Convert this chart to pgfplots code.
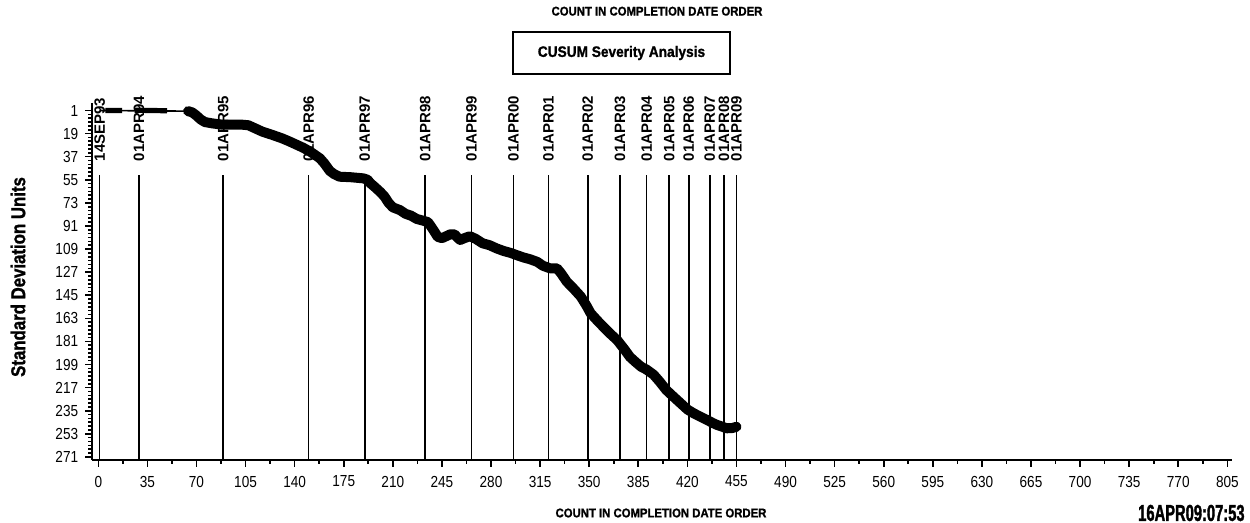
\documentclass[border=0pt]{standalone}
\usepackage{fontspec}
\setmainfont{Liberation Sans}
\newfontfamily\tickfont[FakeStretch=0.85]{Liberation Sans}
\newfontfamily\titlefont[FakeStretch=0.9,FakeBold=1.2]{Liberation Sans}
\newfontfamily\ylabfont[FakeStretch=0.84,FakeBold=1.2]{Liberation Sans}
\newfontfamily\stampfont[FakeStretch=0.64,FakeBold=1.5]{Liberation Sans}
\usepackage{pgfplots}
\pgfplotsset{compat=1.18}
\begin{document}
\begin{tikzpicture}
\useasboundingbox (-46pt,-31.5pt) rectangle (579pt,230pt);
\begin{axis}[
  scale only axis, width=569.85pt, height=178.5pt,
  xmin=-4.5, xmax=808.1, ymin=-4.85, ymax=273.4, y dir=reverse,
  axis x line*=bottom, axis y line*=left,
  axis line style={line width=1pt,-},
  xtick={0,35,...,805}, ytick={1,19,...,271},
  minor x tick num=1, minor y tick num=5,
  tick align=outside,
  major tick length=3.4pt, minor tick length=1.8pt,
  every tick/.style={black, line width=0.8pt},
  tick label style={font=\tickfont\fontsize{8}{9}\selectfont},
  xticklabel shift=1pt,
  /pgf/number format/assume math mode=true,
  clip=false,
]
% vertical date lines
\addplot[black, line width=0.75pt, unbounded coords=jump] coordinates {
 (1,51.3) (1,273.4) (1,nan)
 (29,51.3) (29,273.4) (29,nan)
 (89,51.3) (89,273.4) (89,nan)
 (150,51.3) (150,273.4) (150,nan)
 (190,51.3) (190,273.4) (190,nan)
 (233,51.3) (233,273.4) (233,nan)
 (266,51.3) (266,273.4) (266,nan)
 (296,51.3) (296,273.4) (296,nan)
 (321,51.3) (321,273.4) (321,nan)
 (349,51.3) (349,273.4) (349,nan)
 (372,51.3) (372,273.4) (372,nan)
 (391,51.3) (391,273.4) (391,nan)
 (407,51.3) (407,273.4) (407,nan)
 (421,51.3) (421,273.4) (421,nan)
 (436,51.3) (436,273.4) (436,nan)
 (446,51.3) (446,273.4) (446,nan)
 (455,51.3) (455,273.4)
};
% date labels
\addplot[draw=none, mark=none, nodes near coords, point meta=explicit symbolic,
  every node near coord/.style={rotate=90, anchor=west, inner sep=0pt, xshift=0.6pt,
  font=\bfseries\fontsize{7.5}{8}\selectfont}] coordinates {
 (1,41.7)[14SEP93] (29,41.7)[01APR94] (89,41.7)[01APR95] (150,41.7)[01APR96]
 (190,41.7)[01APR97] (233,41.7)[01APR98] (266,41.7)[01APR99] (296,41.7)[01APR00]
 (321,41.7)[01APR01] (349,41.7)[01APR02] (372,41.7)[01APR03] (391,41.7)[01APR04]
 (407,41.7)[01APR05] (421,41.7)[01APR06] (436,41.7)[01APR07] (446,41.7)[01APR08]
 (455,41.7)[01APR09]
};
% start of the CUSUM curve
\addplot[black, line width=0.8pt] coordinates {(1,1) (64,1.5)};
\addplot[black, line width=2.6pt, unbounded coords=jump] coordinates {(5,1) (17,1) (17,nan) (26,0.8) (49,1.2)};
% main CUSUM curve
\addplot[black, line width=5pt, line join=round, line cap=round] coordinates {
(64,1.5) (67,2.5) (70,5) (73,8) (76,10) (81,11) (88,12) (95,12) (102,12) (107,12.5)
(112,15) (117,17.5) (124,20) (131,22.7) (136,25) (140,27) (146,30) (151,33) (155,36)
(158,38.3) (161,42) (163,45) (165,48) (168,50.5) (172,52.6) (180,53) (189,53.9)
(192,55) (194,57.7) (197,60.5) (201,64.5) (204,68) (207,73) (210,76.5) (215,78.6)
(219,81.5) (223,83) (227,85.5) (232,87) (235,88) (237,91) (240,96) (242,99.5)
(245,100.5) (248,99) (251,97.5) (254,97.5) (256,100) (258,101.9) (261,100.5)
(265,99) (269,101) (274,104.5) (279,106) (284,108.5) (289,110.5) (294,112)
(298,113.6) (303,115.5) (308,117) (313,119) (317,122) (322,124) (327,124)
(330,128) (334,134.4) (339,140) (344,146) (348,153) (351,159) (356,165)
(360,169.5) (365,175) (370,180) (375,187) (379,193) (383,197) (387,200.7)
(391,203) (396,207) (400,212) (405,218.9) (410,224) (415,229) (420,234)
(424.5,237) (429,239.5) (434,242.2) (438,244.5) (441,246) (445,247.5)
(448,248.7) (452,248.5) (455,247.5)
};
\end{axis}
% titles
\node[font=\titlefont\bfseries\fontsize{6.3}{7}\selectfont] at (282.5pt,224.4pt) {COUNT IN COMPLETION DATE ORDER};
\node[draw, line width=1.2pt, minimum width=108.5pt, minimum height=21pt,
  font=\titlefont\bfseries\fontsize{7.6}{8}\selectfont] at (264.75pt,203.5pt) {CUSUM Severity Analysis};
\node[font=\titlefont\bfseries\fontsize{6.3}{7}\selectfont] at (284.5pt,-26.5pt) {COUNT IN COMPLETION DATE ORDER};
\node[anchor=east, inner sep=0pt, font=\stampfont\bfseries\fontsize{11.5}{12}\selectfont] at (576.5pt,-26.5pt) {16APR09:07:53};
\node[rotate=90, font=\ylabfont\bfseries\fontsize{10}{11}\selectfont] at (-37pt,91.5pt) {Standard Deviation Units};
\end{tikzpicture}
\end{document}
